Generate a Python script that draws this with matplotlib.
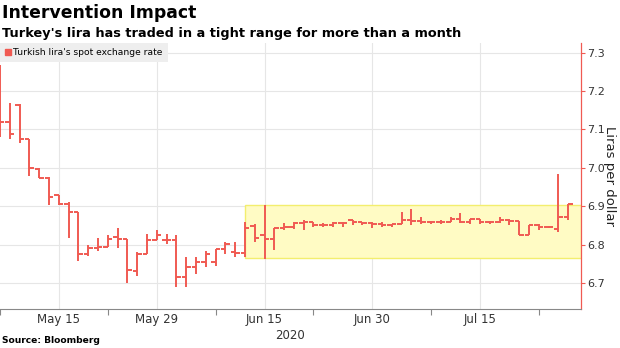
import matplotlib.pyplot as plt
import numpy as np

# daily OHLC, USD/TRY, business days from May 7 to Jul 28 2020
opens = [7.200, 7.120, 7.165, 7.074, 6.998, 6.973, 6.930, 6.906, 6.886, 6.776,
         6.790, 6.793, 6.819, 6.815, 6.730, 6.776, 6.813, 6.811, 6.813, 6.715,
         6.741, 6.754, 6.754, 6.789, 6.780, 6.778, 6.848, 6.826, 6.815, 6.843,
         6.847, 6.857, 6.858, 6.852, 6.852, 6.857, 6.863, 6.858, 6.855, 6.854,
         6.850, 6.854, 6.864, 6.861, 6.858, 6.858, 6.860, 6.867, 6.860, 6.867,
         6.858, 6.858, 6.865, 6.861, 6.825, 6.852, 6.845, 6.841, 6.871]
highs = [7.268, 7.169, 7.166, 7.076, 7.000, 6.976, 6.930, 6.911, 6.886, 6.799,
         6.817, 6.825, 6.843, 6.815, 6.780, 6.828, 6.838, 6.828, 6.824, 6.767,
         6.767, 6.784, 6.789, 6.806, 6.806, 6.858, 6.854, 6.902, 6.843, 6.856,
         6.858, 6.863, 6.860, 6.856, 6.858, 6.858, 6.863, 6.858, 6.858, 6.858,
         6.854, 6.884, 6.893, 6.871, 6.862, 6.863, 6.871, 6.882, 6.867, 6.867,
         6.862, 6.871, 6.867, 6.861, 6.852, 6.854, 6.848, 6.985, 6.905]
lows = [7.080, 7.074, 7.065, 6.978, 6.973, 6.904, 6.902, 6.817, 6.756, 6.771,
        6.784, 6.793, 6.791, 6.699, 6.719, 6.776, 6.812, 6.802, 6.690, 6.690,
        6.724, 6.741, 6.745, 6.776, 6.767, 6.767, 6.806, 6.763, 6.786, 6.837,
        6.841, 6.839, 6.846, 6.845, 6.845, 6.845, 6.850, 6.852, 6.843, 6.846,
        6.846, 6.854, 6.852, 6.854, 6.854, 6.854, 6.860, 6.856, 6.854, 6.854,
        6.854, 6.856, 6.850, 6.824, 6.824, 6.838, 6.842, 6.832, 6.863]
closes = [7.120, 7.087, 7.074, 6.999, 6.973, 6.924, 6.906, 6.886, 6.776, 6.790,
          6.793, 6.815, 6.815, 6.734, 6.776, 6.813, 6.825, 6.813, 6.715, 6.741,
          6.754, 6.776, 6.789, 6.802, 6.778, 6.843, 6.817, 6.815, 6.843, 6.847,
          6.857, 6.858, 6.852, 6.852, 6.857, 6.856, 6.858, 6.855, 6.854, 6.850,
          6.854, 6.863, 6.861, 6.858, 6.858, 6.860, 6.867, 6.860, 6.867, 6.858,
          6.858, 6.865, 6.861, 6.825, 6.852, 6.845, 6.845, 6.871, 6.905]

tick_pos = [6, 16, 27, 38, 49]
tick_labels = ["May 15", "May 29", "Jun 15", "Jun 30", "Jul 15"]
minor_pos = [0, 11, 22, 32, 44, 55]

band_start = 25
band_low, band_high = 6.765, 6.902

red = "#f05a52"
x = np.arange(len(opens))

fig = plt.figure(figsize=(6.2, 3.48), dpi=100)
ax = fig.add_axes([0.0, 0.112, 0.937, 0.764])

ax.set_xlim(0, 59.3)
ax.set_ylim(6.632, 7.325)

# range band
ax.axhspan(band_low, band_high, xmin=band_start / 59.3, xmax=1,
           facecolor="#fffbc4", edgecolor="#f3ee6e", lw=1, zorder=1)

# ohlc bars
ax.vlines(x, lows, highs, color=red, lw=1.4, zorder=3)
ax.hlines(opens, x - 0.45, x, color=red, lw=1.4, zorder=3)
ax.hlines(closes, x, x + 0.45, color=red, lw=1.4, zorder=3)

# axes styling
ax.yaxis.tick_right()
ax.yaxis.set_label_position("right")
ax.set_yticks([6.7, 6.8, 6.9, 7.0, 7.1, 7.2, 7.3])
ax.tick_params(axis="y", colors=red, labelcolor="#333333", labelsize=8,
               length=3, width=0.8, pad=1.5)
ax.set_ylabel("Liras per dollar", rotation=270, labelpad=8, fontsize=9.5,
              color="#222222")

ax.set_xticks(tick_pos)
ax.set_xticklabels(tick_labels)
ax.set_xticks(minor_pos, minor=True)
ax.tick_params(axis="x", which="major", length=0, labelsize=8.5,
               labelcolor="#333333", pad=3)
ax.tick_params(axis="x", which="minor", length=4, color="#888888", width=0.8)
ax.text(29.6, -0.075, "2020", transform=ax.get_xaxis_transform(),
        ha="center", va="top", fontsize=8.5, color="#333333")

ax.grid(True, which="major", color="#e6e6e6", lw=0.8, zorder=0)
ax.set_axisbelow(True)
for s in ["top", "left"]:
    ax.spines[s].set_visible(False)
ax.spines["right"].set_color(red)
ax.spines["right"].set_linewidth(0.9)
ax.spines["bottom"].set_color("#888888")
ax.spines["bottom"].set_linewidth(0.8)

# legend-like label
leg = ax.legend([plt.Line2D([], [], marker="s", color=red, ls="none", ms=5)],
                ["Turkish lira's spot exchange rate"], loc="upper left",
                bbox_to_anchor=(0.0, 1.0), fontsize=6.6, frameon=True,
                handlelength=0.6, handletextpad=0.3, borderpad=0.55,
                borderaxespad=0.0)
leg.get_frame().set_facecolor("#eeeeee")
leg.get_frame().set_edgecolor("none")
leg.get_frame().set_boxstyle("square", pad=0)
leg.get_frame().set_alpha(1)
leg.set_zorder(5)

fig.text(0.003, 0.963, "Intervention Impact", fontsize=12.4, fontweight="bold",
         va="center", ha="left")
fig.text(0.003, 0.905, "Turkey's lira has traded in a tight range for more than a month",
         fontsize=9.3, fontweight="bold", va="center", ha="left")
fig.text(0.003, 0.022, "Source: Bloomberg", fontsize=6.6, fontweight="bold",
         va="center", ha="left")

fig.savefig("out.png", dpi=100)
